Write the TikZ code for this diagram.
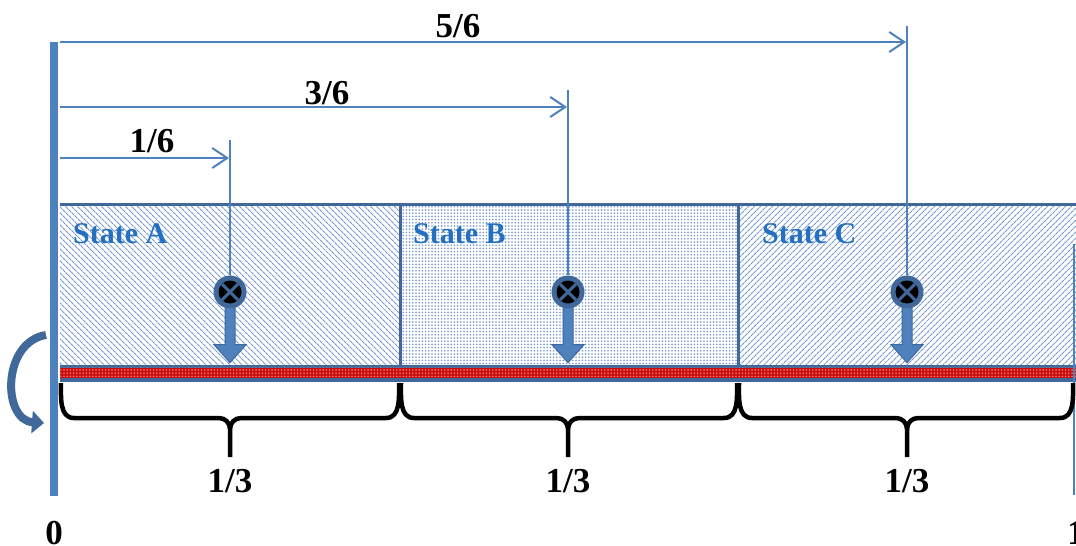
\documentclass[tikz,border=0pt]{standalone}
\usepackage{fontspec}
\setmainfont{Liberation Serif}
\usetikzlibrary{patterns.meta,arrows.meta}
\definecolor{barblue}{RGB}{79,129,189}
\definecolor{edgeblue}{RGB}{65,104,154}
\definecolor{statetxt}{RGB}{36,112,192}
\definecolor{hatch}{RGB}{120,152,208}
\definecolor{redstrip}{RGB}{205,12,12}
\begin{document}
\begin{tikzpicture}[x=1pt,y=-1pt,
  num/.style={font=\bfseries\fontsize{35}{35}\selectfont, inner sep=0, anchor=base},
  statelbl/.style={font=\bfseries\fontsize{30}{30}\selectfont, text=statetxt, inner sep=0, anchor=base west},
  dimarrow/.style={barblue, line width=2, -{Straight Barb[length=15pt,width=20pt,line width=2pt]}},
  tickline/.style={barblue, line width=2},
  bracepath/.style={black, line width=4.5},
  marker/.style={circle, fill=edgeblue, minimum size=33pt, inner sep=0},
  droparrow/.style={fill=barblue, draw=edgeblue, line width=1},
  rotarrow/.style={edgeblue, line width=8, -{Triangle[length=12pt,width=22pt]}}
]
\useasboundingbox (0,0) rectangle (1076,546);

% --- state boxes ---
\fill[white] (60,203) rectangle (1076,366);
\fill[pattern={Lines[angle=-45,distance=4pt,line width=1.1pt]}, pattern color=hatch] (60,203) rectangle (400,366);
\fill[pattern={Dots[radius=0.9pt,distance=3.2pt]}, pattern color=hatch] (400,203) rectangle (738,366);
\fill[pattern={Lines[angle=45,distance=4pt,line width=1.1pt]}, pattern color=hatch] (738,203) rectangle (1076,366);
\draw[edgeblue, line width=3] (60,204.5) -- (1076,204.5);
\draw[edgeblue, line width=3] (60,366) -- (1076,366);
\draw[edgeblue, line width=3] (400,203) -- (400,366);
\draw[edgeblue, line width=3] (738,203) -- (738,366);
% red strip
\fill[redstrip] (60,367.5) rectangle (1076,377.5);
\fill[pattern={Dots[radius=0.8pt,distance=3.2pt]}, pattern color=white!55!redstrip] (60,367.5) rectangle (1076,377.5);
\draw[edgeblue, line width=4] (60,379.5) -- (1076,379.5);

% --- state labels ---
\node[statelbl] (lA) at (73,243) {State A};
\node[statelbl] (lB) at (413,243) {State B};
\node[statelbl] (lC) at (762,243) {State C};

% --- left axis bar and right edge ---
\coordinate (barTop) at (54,42);
\coordinate (barBot) at (54,496);
\draw[barblue, line width=8] (barTop) -- (barBot);
\coordinate (rTop) at (1074,244);
\coordinate (rBot) at (1074,495);
\draw[barblue, line width=1.5] (rTop) -- (rBot);

% --- markers ---
\foreach \n/\x in {mA/230, mB/568, mC/907}{
  \node[marker] (\n) at (\x,292) {};
  \fill[black] (\n.center) circle (11.5pt);
  \draw[edgeblue, line width=3] (\n.center) ++(-8,-8) -- ++(16,16);
  \draw[edgeblue, line width=3] (\n.center) ++(8,-8) -- ++(-16,16);
  \draw[droparrow] (\n.south) ++(-5,-1) -- ++(10,0) -- ++(0,37) -- ++(11,0) -- ++(-16,18) -- ++(-16,-18) -- ++(11,0) -- cycle;
}

% --- dimension arrows ---
\coordinate (d1s) at (60,158); \coordinate (d1e) at (229,158); \coordinate (t1) at (230,140);
\coordinate (d3s) at (60,107); \coordinate (d3e) at (567,107); \coordinate (t3) at (568,90);
\coordinate (d5s) at (60,42);  \coordinate (d5e) at (906,42);  \coordinate (t5) at (907,26);
\draw[tickline] (t1) -- (mA.north);
\draw[tickline] (t3) -- (mB.north);
\draw[tickline] (t5) -- (mC.north);
\draw[dimarrow] (d1s) -- (d1e);
\draw[dimarrow] (d3s) -- (d3e);
\draw[dimarrow] (d5s) -- (d5e);
\node[num] (n16) at (152,152) {1/6};
\node[num] (n36) at (327,104) {3/6};
\node[num] (n56) at (458,37) {5/6};

% --- braces ---
\foreach \a/\m/\b/\nm in {61/230/399/bA, 401/568/737/bB, 739/907/1073/bC}{
  \draw[bracepath] (\a,383) to[out=-90,in=180] (\a+13,418) -- (\m-11,418)
     to[out=0,in=90] (\m,429) -- (\m,457);
  \draw[bracepath] (\m,429) to[out=90,in=180] (\m+11,418) -- (\b-13,418)
     to[out=0,in=-90] (\b,383);
  \node[num] (\nm) at (\m,492) {1/3};
}

% --- axis labels ---
\node[num] (zero) at (54,544) {0};
\node[num] (one) at (1076,544) {1};

% --- rotation arrow ---
\coordinate (rs) at (46,335);
\coordinate (re) at (44,423);
\draw[rotarrow] (rs) .. controls (2,342) and (2,420) .. (re);
\end{tikzpicture}
\end{document}
